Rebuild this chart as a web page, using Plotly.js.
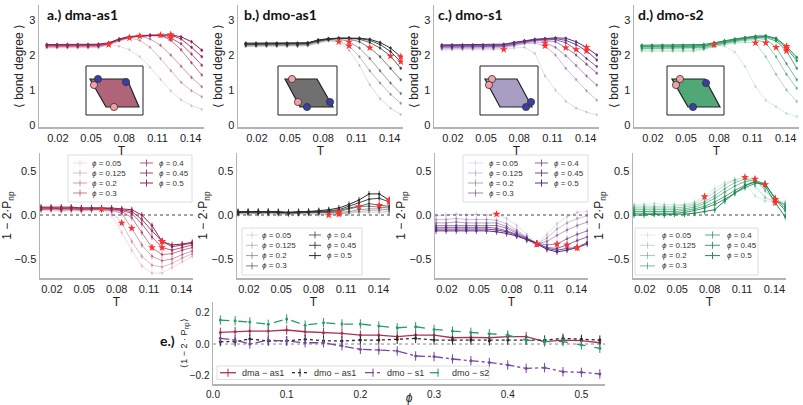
<!DOCTYPE html>
<html><head><meta charset="utf-8">
<script src="https://cdn.plot.ly/plotly-3.0.1.min.js"></script>
<style>html,body{margin:0;padding:0;background:#fff}#chart{width:803px;height:405px}</style>
</head><body><div id="chart"></div>
<script>
// ---------------- DATA ----------------
const T = [0.0100,0.0193,0.0287,0.0380,0.0473,0.0567,0.0660,0.0753,0.0847,0.0940,0.1033,0.1127,0.1220,0.1313,0.1407,0.1500];
const phiLabels = ['0.05','0.125','0.2','0.3','0.4','0.45','0.5'];
const tickT = [0.02,0.05,0.08,0.11,0.14];

// a.) dma-as1  (rows: phi = 0.05 ... 0.5)
const topA = [
 [2.20,2.20,2.20,2.20,2.20,2.21,2.30,2.25,2.15,1.95,1.65,1.30,0.98,0.72,0.55,0.45],
 [2.22,2.22,2.22,2.22,2.22,2.23,2.29,2.40,2.49,2.42,2.22,1.90,1.55,1.22,0.98,0.81],
 [2.24,2.24,2.24,2.24,2.24,2.25,2.31,2.42,2.50,2.54,2.46,2.28,2.00,1.68,1.36,1.09],
 [2.26,2.26,2.26,2.26,2.26,2.27,2.32,2.43,2.51,2.55,2.56,2.57,2.42,2.15,1.78,1.43],
 [2.27,2.27,2.27,2.27,2.27,2.28,2.33,2.44,2.51,2.54,2.55,2.55,2.49,2.32,2.03,1.71],
 [2.29,2.29,2.29,2.29,2.29,2.30,2.34,2.45,2.52,2.55,2.56,2.56,2.57,2.46,2.22,1.95],
 [2.30,2.30,2.30,2.30,2.30,2.31,2.35,2.46,2.53,2.56,2.57,2.57,2.58,2.52,2.38,2.14]];
const botA = [
 [0.05,0.05,0.04,0.05,0.04,0.05,0.07,0.00,-0.20,-0.40,-0.58,-0.66,-0.66,-0.60,-0.53,-0.47],
 [0.06,0.06,0.05,0.06,0.05,0.06,0.06,0.04,-0.09,-0.30,-0.47,-0.57,-0.59,-0.55,-0.49,-0.44],
 [0.06,0.07,0.06,0.06,0.06,0.06,0.06,0.05,0.02,-0.15,-0.34,-0.47,-0.52,-0.50,-0.45,-0.41],
 [0.07,0.07,0.07,0.07,0.06,0.07,0.07,0.06,0.04,-0.03,-0.20,-0.37,-0.45,-0.44,-0.40,-0.37],
 [0.08,0.08,0.07,0.08,0.07,0.07,0.07,0.07,0.05,0.02,-0.10,-0.25,-0.37,-0.40,-0.37,-0.34],
 [0.08,0.08,0.08,0.08,0.08,0.08,0.08,0.07,0.06,0.04,-0.05,-0.18,-0.30,-0.36,-0.34,-0.32],
 [0.09,0.09,0.09,0.09,0.08,0.08,0.08,0.08,0.07,0.06,0.00,-0.12,-0.30,-0.34,-0.33,-0.31]];
const starA = [6,8,9,11,12,12,12];

// b.) dmo-as1
const topB = [
 [2.24,2.24,2.24,2.24,2.24,2.24,2.26,2.34,2.40,2.38,2.14,1.70,1.15,0.75,0.48,0.30],
 [2.26,2.26,2.26,2.26,2.26,2.26,2.28,2.36,2.42,2.40,2.26,1.95,1.55,1.20,0.88,0.62],
 [2.28,2.28,2.28,2.28,2.28,2.28,2.30,2.38,2.44,2.46,2.38,2.20,1.90,1.55,1.20,0.90],
 [2.30,2.30,2.30,2.30,2.30,2.30,2.32,2.40,2.45,2.47,2.46,2.38,2.21,1.95,1.62,1.29],
 [2.31,2.31,2.31,2.31,2.31,2.31,2.33,2.41,2.46,2.48,2.48,2.45,2.36,2.20,1.97,1.62],
 [2.32,2.32,2.32,2.32,2.32,2.32,2.34,2.42,2.46,2.48,2.48,2.47,2.42,2.30,2.10,1.81],
 [2.34,2.34,2.34,2.34,2.34,2.34,2.35,2.43,2.47,2.48,2.49,2.48,2.45,2.36,2.20,1.95]];
const botB = [
 [0.01,0.01,0.02,0.01,0.01,0.01,0.01,0.01,0.01,0.00,0.01,0.02,0.03,0.03,0.03,0.02],
 [0.02,0.02,0.02,0.02,0.02,0.01,0.02,0.02,0.02,0.02,0.01,0.03,0.04,0.05,0.05,0.04],
 [0.02,0.03,0.02,0.03,0.02,0.02,0.02,0.03,0.03,0.03,0.03,0.04,0.06,0.07,0.07,0.06],
 [0.03,0.03,0.03,0.03,0.03,0.02,0.03,0.03,0.03,0.03,0.04,0.07,0.095,0.10,0.09,0.08],
 [0.03,0.03,0.03,0.03,0.03,0.03,0.03,0.03,0.04,0.04,0.05,0.08,0.10,0.13,0.11,0.10],
 [0.03,0.04,0.04,0.04,0.03,0.03,0.03,0.04,0.04,0.05,0.06,0.10,0.14,0.18,0.19,0.15],
 [0.04,0.04,0.04,0.04,0.04,0.03,0.04,0.04,0.05,0.06,0.08,0.12,0.17,0.24,0.24,0.17]];
const starB = [9,10,10,12,14,15,15];

// c.) dmo-s1
const topC = [
 [2.15,2.15,2.15,2.15,2.15,2.15,2.16,2.20,2.22,2.05,1.40,1.00,0.68,0.48,0.37,0.29],
 [2.18,2.18,2.18,2.18,2.18,2.18,2.20,2.26,2.32,2.34,2.26,2.00,1.62,1.30,0.98,0.71],
 [2.21,2.21,2.21,2.21,2.21,2.21,2.23,2.29,2.35,2.38,2.35,2.22,1.98,1.70,1.40,1.14],
 [2.23,2.23,2.23,2.23,2.23,2.23,2.25,2.31,2.37,2.41,2.42,2.38,2.21,2.00,1.74,1.48],
 [2.25,2.25,2.25,2.25,2.25,2.25,2.27,2.33,2.39,2.43,2.45,2.44,2.35,2.16,1.90,1.67],
 [2.27,2.27,2.27,2.27,2.27,2.27,2.29,2.35,2.40,2.44,2.46,2.47,2.42,2.30,2.12,1.86],
 [2.29,2.29,2.29,2.29,2.29,2.29,2.31,2.36,2.41,2.45,2.47,2.49,2.48,2.38,2.22,2.00]];
const botC = [
 [-0.01,0.00,0.01,0.00,0.01,0.00,0.01,-0.04,-0.12,-0.22,-0.32,-0.22,-0.10,-0.02,0.03,0.04],
 [-0.05,-0.05,-0.04,-0.05,-0.05,-0.05,-0.06,-0.10,-0.17,-0.25,-0.33,-0.26,-0.16,-0.09,-0.04,-0.01],
 [-0.09,-0.09,-0.08,-0.09,-0.09,-0.09,-0.09,-0.13,-0.19,-0.26,-0.33,-0.30,-0.23,-0.17,-0.12,-0.08],
 [-0.12,-0.12,-0.12,-0.12,-0.12,-0.12,-0.12,-0.15,-0.21,-0.27,-0.32,-0.34,-0.33,-0.27,-0.22,-0.18],
 [-0.14,-0.14,-0.14,-0.14,-0.14,-0.14,-0.15,-0.18,-0.22,-0.27,-0.32,-0.37,-0.38,-0.34,-0.29,-0.25],
 [-0.16,-0.16,-0.16,-0.16,-0.16,-0.16,-0.17,-0.19,-0.23,-0.28,-0.32,-0.38,-0.40,-0.38,-0.37,-0.31],
 [-0.18,-0.18,-0.18,-0.18,-0.18,-0.18,-0.19,-0.21,-0.24,-0.28,-0.33,-0.39,-0.42,-0.40,-0.37,-0.33]];
const starC = [6,10,10,12,13,14,14];

// d.) dmo-s2
const topD = [
 [2.10,2.10,2.10,2.10,2.10,2.10,2.15,2.30,2.25,2.09,1.67,1.10,0.71,0.52,0.33,0.24],
 [2.14,2.14,2.14,2.14,2.14,2.14,2.17,2.24,2.30,2.34,2.37,2.35,1.95,1.45,1.00,0.67],
 [2.18,2.18,2.18,2.18,2.18,2.18,2.20,2.27,2.33,2.38,2.42,2.44,2.35,1.95,1.45,1.05],
 [2.20,2.20,2.20,2.20,2.20,2.20,2.22,2.29,2.35,2.40,2.45,2.48,2.45,2.22,1.75,1.29],
 [2.23,2.23,2.23,2.23,2.23,2.23,2.25,2.31,2.37,2.42,2.47,2.50,2.50,2.40,2.12,1.62],
 [2.25,2.25,2.25,2.25,2.25,2.25,2.27,2.33,2.39,2.44,2.49,2.52,2.53,2.45,2.20,1.84],
 [2.28,2.28,2.28,2.28,2.28,2.28,2.30,2.35,2.41,2.46,2.50,2.54,2.55,2.48,2.25,1.93]];
const botD = [
 [0.12,0.12,0.13,0.12,0.12,0.12,0.15,0.21,0.30,0.37,0.40,0.35,0.22,0.16,0.15,0.15],
 [0.10,0.10,0.10,0.10,0.10,0.11,0.13,0.18,0.26,0.34,0.40,0.43,0.33,0.20,0.15,0.13],
 [0.08,0.08,0.08,0.08,0.08,0.09,0.11,0.15,0.22,0.30,0.37,0.41,0.41,0.28,0.16,0.12],
 [0.06,0.06,0.06,0.06,0.06,0.07,0.09,0.13,0.19,0.26,0.33,0.38,0.40,0.345,0.20,0.10],
 [0.04,0.04,0.04,0.04,0.04,0.05,0.07,0.10,0.15,0.21,0.28,0.34,0.38,0.36,0.18,0.08],
 [0.02,0.02,0.02,0.02,0.02,0.03,0.05,0.08,0.12,0.18,0.25,0.31,0.36,0.36,0.18,0.05],
 [0.00,0.00,0.01,0.00,0.01,0.01,0.02,0.04,0.06,0.16,0.25,0.33,0.38,0.33,0.14,-0.02]];
const starD = [7,11,12,13,14,14,14];

const errTop = 0.05, errBot = 0.035, errE = 0.03;

// e.)  <1 - 2 P_np> vs phi
const phiE = [0.01,0.03,0.05,0.075,0.1,0.125,0.15,0.175,0.2,0.225,0.25,0.275,0.3,0.325,0.35,0.375,0.4,0.425,0.45,0.475,0.5,0.525];
const eDmaAs1 = [0.074,0.078,0.082,0.082,0.089,0.078,0.072,0.068,0.057,0.057,0.047,0.057,0.057,0.040,0.042,0.040,0.047,0.047,0.015,0.025,0.021,0.008];
const eDmoAs1 = [0.015,0.015,0.032,0.019,0.021,0.030,0.021,0.019,0.025,0.025,0.030,0.036,0.025,0.025,0.025,0.021,0.025,0.025,0.025,0.036,0.030,0.025];
const eDmoS1  = [0.036,0.025,0.000,0.025,0.019,0.008,0.008,-0.011,-0.034,-0.038,-0.044,-0.076,-0.080,-0.095,-0.106,-0.117,-0.133,-0.155,-0.150,-0.176,-0.180,-0.190];
const eDmoS2  = [0.152,0.148,0.140,0.125,0.159,0.120,0.135,0.127,0.127,0.114,0.103,0.110,0.093,0.082,0.074,0.065,0.057,0.025,0.015,0.015,-0.006,-0.027];
const eNames = ['dma − as1','dmo − as1','dmo − s1','dmo − s2'];

// ---------------- STYLE / LAYOUT ----------------
const W = 803, H = 405;
const px = v => v / W;
const py = v => 1 - v / H;
const alphas = [0.16,0.3,0.44,0.58,0.72,0.86,1.0];
const rgba = (c,a) => `rgba(${c[0]},${c[1]},${c[2]},${a})`;
const FONT = 'Liberation Sans, Arial, sans-serif';

const panels = [
 {title:'a.) dma-as1', top:topA, bot:botA, star:starA, color:[150,35,80],
  topX:[39,204], botX:[40,193], titlePos:[45,15],
  leg:{box:[68,155,192,202], lines:[[73,87],[140,153]], text:[90,157], row0:163, gap:10},
  inset:{sq:[86,66,143,115], rh:[[90,79],[127,79],[139,107],[106,107]], blue:[[98,79],[126,82]], pink:[[94,85],[114,107]], fill:'rgb(176,100,122)'}},
 {title:'b.) dmo-as1', top:topB, bot:botB, star:starB, color:[45,45,45],
  topX:[238,403], botX:[237,390], titlePos:[242,15],
  leg:{box:[242,228,362,275], lines:[[246,258],[309,321]], text:[260,325], row0:235, gap:10.3},
  inset:{sq:[278,66,337,115], rh:[[285,79],[317,79],[333,107],[300,107]], blue:[[307,107],[330,102]], pink:[[292,79],[298,102]], fill:'rgb(112,112,112)'}},
 {title:'c.) dmo-s1', top:topC, bot:botC, star:starC, color:[95,45,125],
  topX:[434,599], botX:[435,588], titlePos:[436,15],
  leg:{box:[463,155,588,202], lines:[[468,483],[535,548]], text:[487,552], row0:163, gap:10},
  inset:{sq:[480,66,538,115], rh:[[485,79],[517,79],[532,107],[500,107]], blue:[[531,102],[526,107]], pink:[[492,79],[489,85]], fill:'rgb(168,158,196)'}},
 {title:'d.) dmo-s2', top:topD, bot:botD, star:starD, color:[30,140,85],
  topX:[634,799], botX:[633,786], titlePos:[636,15],
  leg:{box:[635,228,758,275], lines:[[640,655],[705,720]], text:[660,725], row0:235, gap:10.3},
  inset:{sq:[667,66,724,115], rh:[[672,79],[705,79],[720,107],[688,107]], blue:[[706,83],[693,107]], pink:[[680,79],[676,85]], fill:'rgb(80,168,118)'}}
];

const eStyle = [
 {color:'rgb(170,50,88)', dash:'solid'},
 {color:'rgb(40,40,40)', dash:'dot'},
 {color:'rgb(120,72,155)', dash:'dashdot'},
 {color:'rgb(40,155,105)', dash:'dash'}];

const traces = [];
const shapes = [];
const annotations = [];
const layout = {
  width:W, height:H, margin:{l:0,r:0,t:0,b:0},
  paper_bgcolor:'#ffffff', plot_bgcolor:'rgba(0,0,0,0)', showlegend:false,
  font:{family:FONT, size:11, color:'#222'}, shapes, annotations
};

function axBase(extra){
  return Object.assign({showline:true, linecolor:'#b3b3b3', linewidth:1.5, ticks:'', showgrid:false,
    zeroline:false, automargin:false, tickfont:{family:FONT,size:11,color:'#222'}, fixedrange:true}, extra);
}

panels.forEach((P,p)=>{
  const ti = p+1, bi = p+5;
  const xt = ti===1?'x':'x'+ti, yt = ti===1?'y':'y'+ti;
  const xb = 'x'+bi, yb = 'y'+bi;
  layout['xaxis'+(ti===1?'':ti)] = axBase({domain:[px(P.topX[0]),px(P.topX[1])], range:[0.003,0.152], anchor:yt,
      tickvals:tickT, tickformat:'.2f', title:{text:'T', font:{size:12}, standoff:0}});
  layout['yaxis'+(ti===1?'':ti)] = axBase({domain:[py(127),py(5)], range:[-0.057,3.43], anchor:xt,
      tickvals:[0,1,2,3], title:{text:'⟨ bond degree ⟩', font:{size:12}, standoff:3}});
  layout['xaxis'+bi] = axBase({domain:[px(P.botX[0]),px(P.botX[1])], range:[0.009,0.1507], anchor:yb,
      tickvals:tickT, tickformat:'.2f', title:{text:'T', font:{size:12}, standoff:1}});
  layout['yaxis'+bi] = axBase({domain:[py(278),py(153)], range:[-0.716,0.705], anchor:xb,
      tickvals:[-0.5,0,0.5], tickformat:'.1f', title:{text:'1 − 2·P<sub>np</sub>', font:{size:12}, standoff:1}});

  P.top.forEach((vals,k)=>{
    const c = rgba(P.color, alphas[k]);
    traces.push({type:'scatter', mode:'lines+markers', x:T, y:vals, xaxis:xt, yaxis:yt,
      name:'ϕ = '+phiLabels[k], line:{color:c, width:1}, marker:{size:2.5, color:c},
      error_y:{type:'constant', value:errTop, thickness:0.8, width:0, color:c}, hoverinfo:'skip'});
  });
  P.bot.forEach((vals,k)=>{
    const c = rgba(P.color, alphas[k]);
    traces.push({type:'scatter', mode:'lines+markers', x:T, y:vals, xaxis:xb, yaxis:yb,
      name:'ϕ = '+phiLabels[k], line:{color:c, width:1}, marker:{size:2.5, color:c},
      error_y:{type:'constant', value:errBot, thickness:0.8, width:0, color:c}, hoverinfo:'skip'});
  });
  const starMarker = {symbol:'star', size:6, color:'#ff3030', line:{width:0}};
  traces.push({type:'scatter', mode:'markers', x:P.star.map(i=>T[i]), y:P.star.map((i,k)=>P.top[k][i]),
    xaxis:xt, yaxis:yt, marker:starMarker, hoverinfo:'skip', name:'stars'});
  traces.push({type:'scatter', mode:'markers', x:P.star.map(i=>T[i]), y:P.star.map((i,k)=>P.bot[k][i]),
    xaxis:xb, yaxis:yb, marker:starMarker, hoverinfo:'skip', name:'stars'});

  // zero line
  shapes.push({type:'line', xref:xb+' domain', yref:yb, x0:0, x1:1, y0:0, y1:0,
    line:{color:'#444', width:1, dash:'dot'}, layer:'below'});

  // panel title
  annotations.push({xref:'paper', yref:'paper', x:px(P.titlePos[0]), y:py(P.titlePos[1]), xanchor:'left', yanchor:'middle',
    text:'<b>'+P.title+'</b>', showarrow:false, font:{family:'Lato, Open Sans, sans-serif', size:14, color:'#111'}});

  // inset drawing
  const I = P.inset;
  shapes.push({type:'rect', xref:'paper', yref:'paper', x0:px(I.sq[0]), x1:px(I.sq[2]), y0:py(I.sq[3]), y1:py(I.sq[1]),
    fillcolor:'#ffffff', line:{color:'#222', width:1}, layer:'above'});
  const path = I.rh.map((q,j)=>(j?'L':'M')+px(q[0]).toFixed(5)+','+py(q[1]).toFixed(5)).join(' ')+' Z';
  shapes.push({type:'path', xref:'paper', yref:'paper', path, fillcolor:I.fill, line:{color:'#222', width:1.2}, layer:'above'});
  const circ = (q,fill)=>shapes.push({type:'circle', xref:'paper', yref:'paper',
    x0:px(q[0]-3.6), x1:px(q[0]+3.6), y0:py(q[1]+3.6), y1:py(q[1]-3.6), fillcolor:fill, line:{color:'#333', width:0.8}, layer:'above'});
  I.pink.forEach(q=>circ(q,'#f4a0a6'));
  I.blue.forEach(q=>circ(q,'#3a3ea6'));

  // manual two-column legend
  const L = P.leg;
  shapes.push({type:'rect', xref:'paper', yref:'paper', x0:px(L.box[0]), x1:px(L.box[2]), y0:py(L.box[3]), y1:py(L.box[1]),
    fillcolor:'rgba(255,255,255,0.85)', line:{color:'#d6d6d6', width:0.8}, layer:'above'});
  phiLabels.forEach((lab,k)=>{
    const col = k<4?0:1, row = k<4?k:k-4;
    const yy = L.row0 + row*L.gap;
    const [l0,l1] = L.lines[col];
    const c = rgba(P.color, alphas[k]);
    shapes.push({type:'line', xref:'paper', yref:'paper', x0:px(l0), x1:px(l1), y0:py(yy), y1:py(yy), line:{color:c, width:1}, layer:'above'});
    const m = (l0+l1)/2;
    shapes.push({type:'line', xref:'paper', yref:'paper', x0:px(m), x1:px(m), y0:py(yy-3.5), y1:py(yy+3.5), line:{color:c, width:1}, layer:'above'});
    annotations.push({xref:'paper', yref:'paper', x:px(L.text[col]), y:py(yy), xanchor:'left', yanchor:'middle',
      text:'<i>ϕ</i> = '+lab, showarrow:false, font:{family:FONT, size:8, color:'#333'}});
  });
});

// panel e
layout.xaxis9 = axBase({domain:[px(213),px(605)], range:[0,0.532], anchor:'y9', tickvals:[0,0.1,0.2,0.3,0.4,0.5], tickformat:'.1f',
  tickfont:{family:FONT,size:10,color:'#222'}, title:{text:'<i>ϕ</i>', font:{size:12}, standoff:1}});
layout.yaxis9 = axBase({domain:[py(384),py(302)], range:[-0.254,0.267], anchor:'x9', tickvals:[-0.2,0,0.2], tickformat:'.1f',
  tickfont:{family:FONT,size:10,color:'#222'}, title:{text:'⟨1 − 2 · P<sub>np</sub>⟩', font:{size:9}, standoff:0}});
shapes.push({type:'line', xref:'x9 domain', yref:'y9', x0:0, x1:1, y0:0, y1:0, line:{color:'#888', width:1, dash:'dot'}, layer:'below'});
[eDmaAs1, eDmoAs1, eDmoS1, eDmoS2].forEach((vals,j)=>{
  traces.push({type:'scatter', mode:'lines+markers', x:phiE, y:vals, xaxis:'x9', yaxis:'y9', name:eNames[j],
    line:{color:eStyle[j].color, width:1.3, dash:eStyle[j].dash}, marker:{size:3, color:eStyle[j].color},
    error_y:{type:'constant', value:errE, thickness:1, width:0, color:eStyle[j].color}, hoverinfo:'skip'});
});
annotations.push({xref:'paper', yref:'paper', x:px(177), y:py(340), xanchor:'right', yanchor:'middle', text:'<b>e.)</b>',
  showarrow:false, font:{family:'Lato, Open Sans, sans-serif', size:14, color:'#111'}});
// manual legend for e
shapes.push({type:'rect', xref:'paper', yref:'paper', x0:px(217), x1:px(489), y0:py(379.5), y1:py(366),
  fillcolor:'rgba(255,255,255,0.85)', line:{color:'#d6d6d6', width:0.8}, layer:'above'});
const eLeg = [[220,236,240],[292,308,312],[365,381,385],[430,446,450]];
eLeg.forEach((g,j)=>{
  const yy = 372.7;
  shapes.push({type:'line', xref:'paper', yref:'paper', x0:px(g[0]), x1:px(g[1]), y0:py(yy), y1:py(yy),
    line:{color:eStyle[j].color, width:1.3, dash:eStyle[j].dash}, layer:'above'});
  const m = (g[0]+g[1])/2;
  shapes.push({type:'line', xref:'paper', yref:'paper', x0:px(m), x1:px(m), y0:py(yy-4), y1:py(yy+4),
    line:{color:eStyle[j].color, width:1}, layer:'above'});
  annotations.push({xref:'paper', yref:'paper', x:px(g[2]), y:py(yy), xanchor:'left', yanchor:'middle', text:eNames[j],
    showarrow:false, font:{family:FONT, size:9, color:'#333'}});
});

Plotly.newPlot('chart', traces, layout, {staticPlot:true, displayModeBar:false});
</script></body></html>
